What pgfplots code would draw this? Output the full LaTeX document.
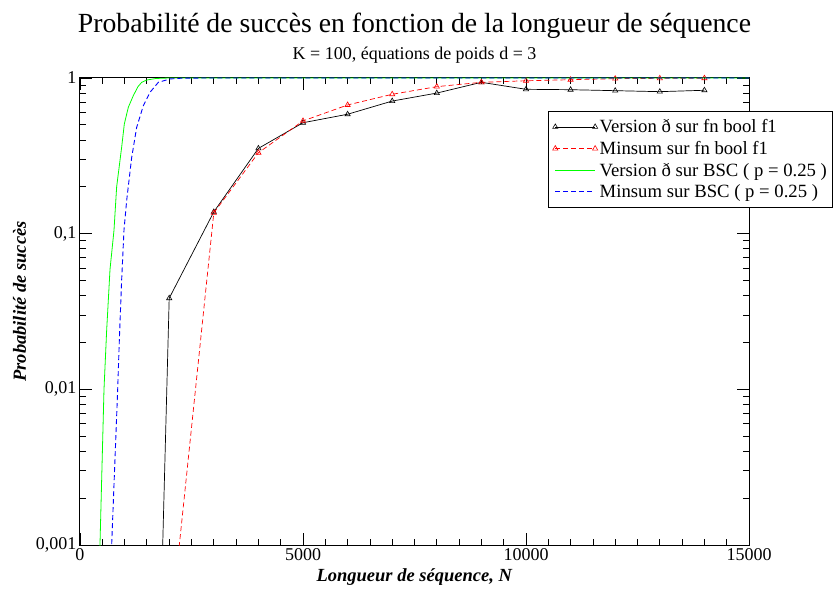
\documentclass[border=0pt]{standalone}
\usepackage{pgfplots}
\pgfplotsset{compat=1.18}
\usepackage{fontspec}
\setmainfont{Liberation Serif}

\begin{document}
\begin{tikzpicture}
\begin{axis}[
  scale only axis,
  width=669pt, height=467pt,
  xmin=0, xmax=15000,
  ymode=log, ymin=0.001, ymax=1,
  xtick={0,5000,10000,15000},
  minor x tick num=9,
  ytick={0.001,0.01,0.1,1},
  yticklabels={{0,001},{0,01},{0,1},{1}},
  /pgf/number format/assume math mode=true,
  /pgf/number format/1000 sep={},
  scaled x ticks=false,
  tick align=inside,
  major tick length=12pt,
  minor tick length=6pt,
  tick style={black, line width=0.8pt},
  axis line style={line width=1pt},
  ticklabel style={font=\fontsize{18}{20}\selectfont},
  xlabel={\textbf{\textit{Longueur de séquence, N}}},
  ylabel={\textbf{\textit{Probabilité de succès}}},
  label style={font=\fontsize{18.5}{20}\selectfont},
  xlabel style={yshift=-1pt},
  ylabel style={yshift=3pt, xshift=10pt},
  clip mode=individual,
  legend cell align=left,
  legend style={at={(rel axis cs:0.7,0.929)}, anchor=north west,
    font=\fontsize{18.7}{21}\selectfont, line width=0.8pt,
    inner xsep=4pt, inner ysep=6pt, row sep=3pt},
]

% Version eth on boolean function f1
\addplot[forget plot, color=black, line width=0.7pt, mark=triangle, mark size=3pt, mark options={solid, line width=0.6pt}]
  coordinates {
  (1000,5e-13) (2000,0.0385) (3000,0.138) (4000,0.353) (5000,0.516)
  (6000,0.585) (7000,0.711) (8000,0.80) (9000,0.938) (10000,0.846)
  (11000,0.841) (12000,0.829) (13000,0.817) (14000,0.834)
  };

% Minsum on boolean function f1
\addplot[forget plot, color=red, line width=0.7pt, dash pattern=on 5pt off 3pt, mark=triangle, mark size=3pt, mark options={solid, line width=0.6pt}]
  coordinates {
  (2000,0.000236) (3000,0.136) (4000,0.331) (5000,0.53)
  (6000,0.671) (7000,0.786) (8000,0.88) (9000,0.938) (10000,0.96)
  (11000,0.975) (12000,0.99) (13000,0.995) (14000,0.997)
  };

% Version eth on BSC, p = 0.25
\addplot[forget plot, color=green, line width=0.8pt]
  coordinates {
  (440,0.0008) (448,0.001) (538,0.01) (598,0.024) (673,0.059) (762,0.105)
  (822,0.2) (934,0.359) (994,0.507) (1084,0.649) (1196,0.771)
  (1300,0.88) (1383,0.938) (1495,0.97) (1700,0.993) (2000,1)
  (15000,1)
  };

% Minsum on BSC, p = 0.25
\addplot[forget plot, color=blue, line width=0.9pt, dash pattern=on 5pt off 3pt]
  coordinates {
  (700,0.0008) (710,0.001) (845,0.01) (882,0.0207) (934,0.0505) (987,0.106)
  (1046,0.163) (1159,0.309) (1271,0.482) (1420,0.664) (1570,0.809)
  (1756,0.938) (2018,0.986) (2300,0.998) (3000,1) (15000,1)
  };

% legend samples: short line with a marker at each end
\pgfplotsset{legend image code/.code={%
  \draw[mark repeat=2,mark phase=1,#1] plot coordinates {(0cm,0cm) (0.7cm,0cm) (1.4cm,0cm)};}}
\addlegendimage{draw=black, line width=0.7pt, mark=triangle, mark size=3pt, mark options={solid, draw=black, line width=0.6pt}}
\addlegendentry{Version ð sur fn bool f1}
\addlegendimage{draw=red, line width=0.7pt, dash pattern=on 5pt off 3pt, mark=triangle, mark size=3pt, mark options={solid, draw=red, line width=0.6pt}}
\addlegendentry{Minsum sur fn bool f1}
\addlegendimage{draw=green, line width=0.8pt}
\addlegendentry{Version ð sur BSC ( p = 0.25 )}
\addlegendimage{draw=blue, line width=0.9pt, dash pattern=on 5pt off 3pt}
\addlegendentry{Minsum sur BSC ( p = 0.25 )}

\node[font=\fontsize{27.7}{31}\selectfont] at ([yshift=52pt]rel axis cs:0.5,1) {Probabilité de succès en fonction de la longueur de séquence};
\node[font=\fontsize{18}{20}\selectfont] at ([yshift=23pt]rel axis cs:0.5,1) {K = 100, équations de poids d = 3};
% page margins around the plot area
\path ([xshift=-80pt,yshift=-44pt]rel axis cs:0,0) rectangle ([xshift=86pt,yshift=78pt]rel axis cs:1,1);
\end{axis}
\end{tikzpicture}
\end{document}
